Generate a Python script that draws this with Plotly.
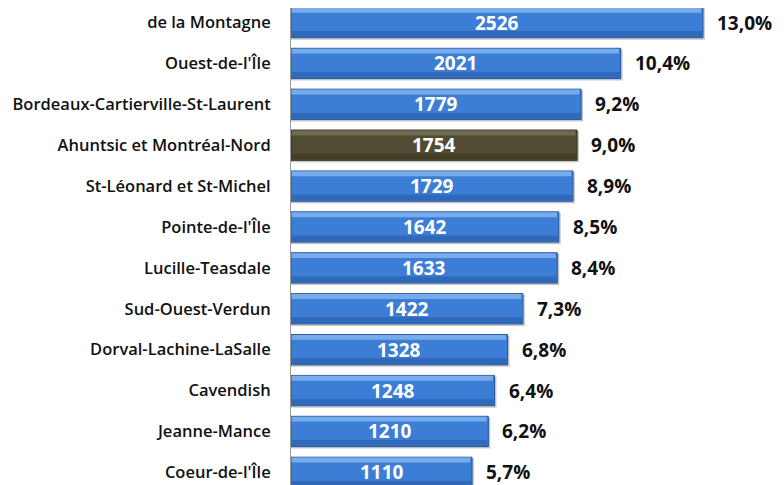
import plotly.graph_objects as go

categories = ["de la Montagne", "Ouest-de-l'Île", "Bordeaux-Cartierville-St-Laurent",
              "Ahuntsic et Montréal-Nord", "St-Léonard et St-Michel", "Pointe-de-l'Île",
              "Lucille-Teasdale", "Sud-Ouest-Verdun", "Dorval-Lachine-LaSalle",
              "Cavendish", "Jeanne-Mance", "Coeur-de-l'Île"]
values = [2526, 2021, 1779, 1754, 1729, 1642, 1633, 1422, 1328, 1248, 1210, 1110]
percents = ["13,0%", "10,4%", "9,2%", "9,0%", "8,9%", "8,5%", "8,4%", "7,3%",
            "6,8%", "6,4%", "6,2%", "5,7%"]
highlight = "Ahuntsic et Montréal-Nord"

blue = "#3c7dd5"
dark = "#514b33"
colors = [dark if c == highlight else blue for c in categories]
line_colors = ["#35311f" if c == highlight else "#28579a" for c in categories]
hi_colors = ["#6f6a52" if c == highlight else "#78abec" for c in categories]
lo_colors = ["#433e29" if c == highlight else "#3169ba" for c in categories]

fig = go.Figure()
# shadow
fig.add_trace(go.Bar(y=categories, x=[v + 12 for v in values], orientation="h",
                     width=0.76, offset=-0.34,
                     marker=dict(color="rgba(90,90,90,0.35)", line=dict(width=0)),
                     hoverinfo="skip", showlegend=False))
# main bar
fig.add_trace(go.Bar(y=categories, x=values, orientation="h", width=0.74, offset=-0.37,
                     marker=dict(color=colors, line=dict(color=line_colors, width=1)),
                     hoverinfo="skip", showlegend=False))
# top highlight
fig.add_trace(go.Bar(y=categories, x=[v - 14 for v in values], base=[4] * len(values),
                     orientation="h", width=0.12, offset=-0.36,
                     marker=dict(color=hi_colors, line=dict(width=0)),
                     hoverinfo="skip", showlegend=False))
# lower shade
fig.add_trace(go.Bar(y=categories, x=[v - 10 for v in values], base=[4] * len(values),
                     orientation="h", width=0.14, offset=0.21,
                     marker=dict(color=lo_colors, line=dict(width=0)),
                     hoverinfo="skip", showlegend=False))

for c, v, p in zip(categories, values, percents):
    fig.add_annotation(x=v / 2, y=c, text=str(v), showarrow=False, xanchor="center",
                       font=dict(family="Open Sans", size=19, color="white", weight=700))
    fig.add_annotation(x=v, y=c, text=p, showarrow=False, xanchor="left", xshift=12,
                       font=dict(family="Open Sans", size=19, color="#111111", weight=700))

fig.update_layout(
    width=776, height=477, barmode="overlay",
    margin=dict(l=283, r=0, t=0, b=0),
    plot_bgcolor="white", paper_bgcolor="white",
    xaxis=dict(range=[0, 3023], visible=False),
    yaxis=dict(categoryorder="array", categoryarray=categories, automargin=False,
               range=[11.31, -0.355], showline=True, linecolor="#9a9a9a", linewidth=1,
               ticks="", ticklabelstandoff=16,
               tickfont=dict(family="Open Sans", size=16.5, color="#111111", weight=600)),
)
fig.write_html("out.html")
